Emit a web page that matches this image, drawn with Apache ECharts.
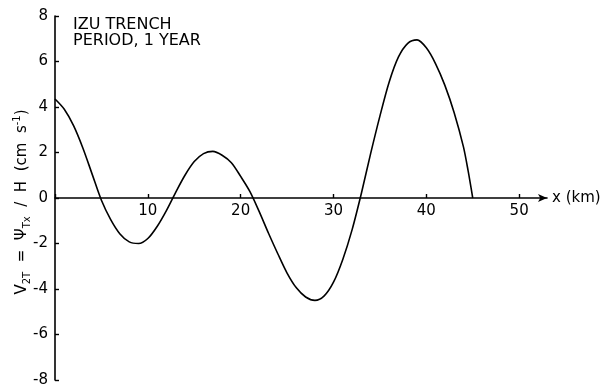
<!DOCTYPE html>
<html>
<head>
<meta charset="utf-8">
<script src="https://cdn.jsdelivr.net/npm/echarts@6/dist/echarts.min.js"></script>
<style>
  html, body { margin: 0; padding: 0; background: #fff; }
  #chart { width: 613px; height: 388px; }
</style>
</head>
<body>
<div id="chart"></div>
<script>
// Distance across the trench (km) and the velocity profile v2T (cm/s)
const distanceKm = [0, 1, 2, 3, 4, 5, 6, 7, 8, 9, 10, 11, 12, 13, 14, 15, 16, 17, 18, 19, 20, 21, 22,
  23, 24, 25, 26, 27, 28, 29, 30, 31, 32, 33, 34, 35, 36, 37, 38, 39, 40, 41, 42, 43, 44, 44.5, 45];
const velocity = [4.35, 3.9, 3.18, 2.2, 1.05, -0.1, -0.95, -1.58, -1.93, -2.0, -1.78, -1.25, -0.55, 0.25,
  1.0, 1.6, 1.95, 2.05, 1.88, 1.55, 0.95, 0.28, -0.6, -1.55, -2.45, -3.3, -3.95, -4.35, -4.5, -4.3,
  -3.7, -2.7, -1.4, 0.2, 1.95, 3.6, 5.1, 6.2, 6.8, 6.95, 6.6, 5.9, 4.95, 3.75, 2.25, 1.2, 0];

const titleLines = ['IZU TRENCH', 'PERIOD, 1 YEAR'];

const FONT = 'DejaVu Sans';
const INK = '#000';

const chart = echarts.init(document.getElementById('chart'), null, { renderer: 'canvas' });

chart.setOption({
  animation: false,
  backgroundColor: '#fff',
  grid: { left: 55, top: 16, width: 492, height: 364, containLabel: false },
  xAxis: {
    type: 'value',
    min: 0,
    max: 53,
    interval: 10,
    position: 'bottom',
    offset: -182,
    name: 'x (km)',
    nameLocation: 'end',
    nameGap: 5,
    nameTextStyle: { color: INK, fontSize: 15, fontFamily: FONT, verticalAlign: 'middle', align: 'left' },
    axisLine: {
      onZero: false,
      symbol: ['none', 'arrow'],
      symbolSize: [6, 9],
      lineStyle: { color: INK, width: 1.6 }
    },
    axisTick: { inside: true, length: 4, lineStyle: { color: INK, width: 1.4 } },
    axisLabel: {
      color: INK,
      fontSize: 15,
      fontFamily: FONT,
      margin: 6,
      showMaxLabel: false,
      formatter: v => (v === 0 || v > 50 ? '' : String(v))
    },
    splitLine: { show: false }
  },
  yAxis: {
    type: 'value',
    min: -8,
    max: 8,
    interval: 2,
    axisLine: { show: true, onZero: false, lineStyle: { color: INK, width: 1.6 } },
    axisTick: { inside: true, length: 4, lineStyle: { color: INK, width: 1.4 } },
    axisLabel: { color: INK, fontSize: 15, fontFamily: FONT, margin: 7 },
    splitLine: { show: false }
  },
  graphic: [
    {
      type: 'text',
      left: 73,
      top: 17,
      style: {
        text: titleLines.join('\n'),
        fill: INK,
        font: '16px "' + FONT + '"',
        lineHeight: 16
      }
    },
    {
      type: 'text',
      x: 22,
      y: 202,
      rotation: Math.PI / 2,
      style: {
        text: '{n|V}{s|2T}{n|  =  Ψ}{s|Tx}{n|  /  H  (cm  s}{p|-1}{n|)}',
        align: 'center',
        verticalAlign: 'middle',
        fill: INK,
        rich: {
          n: { fontSize: 15, fontFamily: FONT, fill: INK, verticalAlign: 'middle', lineHeight: 20 },
          s: { fontSize: 10, fontFamily: FONT, fill: INK, verticalAlign: 'bottom', lineHeight: 20 },
          p: { fontSize: 10, fontFamily: FONT, fill: INK, verticalAlign: 'top', lineHeight: 20 }
        }
      }
    }
  ],
  series: [
    {
      type: 'line',
      data: distanceKm.map((x, i) => [x, velocity[i]]),
      smooth: 0.3,
      showSymbol: false,
      lineStyle: { color: INK, width: 1.6 }
    }
  ]
});
</script>
</body>
</html>
